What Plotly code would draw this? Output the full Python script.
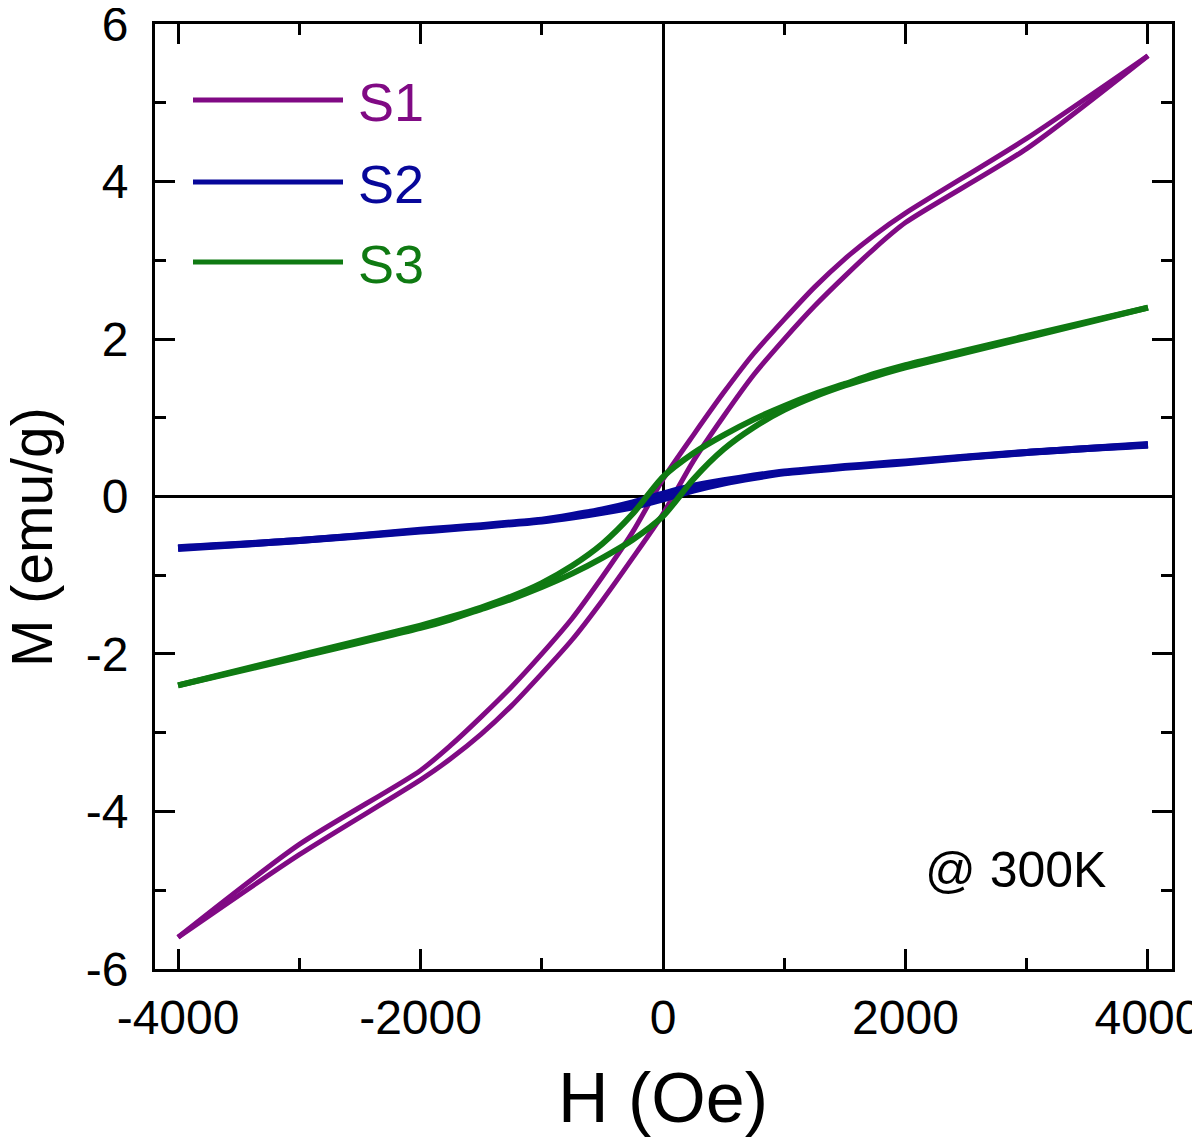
import plotly.graph_objects as go

# Field values (Oe) for the descending (upper) branch
H = [-4000, -3000, -2000, -1750, -1500, -1250, -1000, -750, -500, -250, 0,
     250, 500, 750, 1000, 1250, 1500, 1750, 2000, 3000, 4000]

# S1 upper branch magnetisation (emu/g)
s1_upper = [-5.6, -4.42, -3.48, -3.16, -2.8, -2.42, -2.0, -1.55, -1.02, -0.45, 0.22,
            0.78, 1.32, 1.82, 2.25, 2.66, 3.02, 3.33, 3.6, 4.55, 5.6]
# S2 upper branch
s2_upper = [-0.65, -0.56, -0.43, -0.4, -0.37, -0.335, -0.3, -0.24, -0.17, -0.08, 0.03,
            0.13, 0.2, 0.26, 0.31, 0.345, 0.38, 0.41, 0.44, 0.56, 0.66]
# S3 upper branch
s3_upper = [-2.4, -2.02, -1.64, -1.53, -1.41, -1.27, -1.1, -0.88, -0.6, -0.22, 0.25,
            0.55, 0.78, 0.98, 1.15, 1.3, 1.43, 1.56, 1.67, 2.04, 2.4]

series_names = ["S1", "S2", "S3"]
series_colors = ["#800a84", "#07079a", "#0f7a12"]
series_widths = [5, 7, 6]

x_ticks = [-4000, -2000, 0, 2000, 4000]
y_ticks = [-6, -4, -2, 0, 2, 4, 6]

FONT = "Arial, Liberation Sans, sans-serif"


def lower_branch(upper):
    # the ascending branch mirrors the descending one through the origin
    return [-v for v in reversed(upper)]


H_lower = [-h for h in reversed(H)]

fig = go.Figure()
for name, up, col, w in zip(series_names, [s1_upper, s2_upper, s3_upper], series_colors, series_widths):
    for xs, ys in ((H, up), (H_lower, lower_branch(up))):
        fig.add_trace(go.Scatter(
            x=xs, y=ys, mode="lines", name=name, showlegend=False,
            line=dict(color=col, width=w, shape="spline", smoothing=0.7),
        ))

# Plot frame in screenshot pixels (page body has an 8px default margin)
OFF = 8
L, R, T, B = 155, 1172, 24, 969
W, Hgt = 1200, 1141


def px(xp):
    return (xp - L) / (R - L)


def py(yp):
    return (B - yp) / (B - T)


legend_y = [100, 182, 262]
for name, col, yy in zip(series_names, series_colors, legend_y):
    fig.add_shape(type="line", xref="paper", yref="paper",
                  x0=px(193), x1=px(343), y0=py(yy), y1=py(yy),
                  line=dict(color=col, width=5))
    fig.add_annotation(xref="paper", yref="paper", x=px(356), y=py(yy + 2),
                       xanchor="left", yanchor="middle", text=name, showarrow=False,
                       font=dict(family=FONT, size=54, color=col))

fig.add_annotation(xref="paper", yref="paper", x=px(1015), y=py(870),
                   xanchor="center", yanchor="middle", text="@ 300K", showarrow=False,
                   font=dict(family=FONT, size=50, color="black"))

# axis titles
fig.add_annotation(xref="paper", yref="paper", x=px(663), y=py(1098),
                   xanchor="center", yanchor="middle", text="H (Oe)", showarrow=False,
                   font=dict(family=FONT, size=70, color="black"))
fig.add_annotation(xref="paper", yref="paper", x=px(32), y=py(537),
                   xanchor="center", yanchor="middle", text="M (emu/g)", showarrow=False,
                   textangle=-90,
                   font=dict(family=FONT, size=57, color="black"))

axis_common = dict(
    showline=True, linecolor="black", linewidth=3, mirror="allticks",
    ticks="inside", ticklen=20, tickwidth=3, tickcolor="black",
    showgrid=False, zeroline=True, zerolinecolor="black", zerolinewidth=2.5,
    tickfont=dict(family=FONT, size=48, color="black"),
    automargin=False, ticklabeloverflow="allow",
)

fig.update_xaxes(
    range=[-4190, 4198], tickvals=x_ticks, ticktext=[str(v) for v in x_ticks],
    minor=dict(dtick=1000, tick0=0, ticklen=11, tickwidth=3, tickcolor="black", ticks="inside"),
    ticklabelstandoff=4,
    **axis_common,
)
fig.update_yaxes(
    range=[-6.003, 6.003], tickvals=y_ticks, ticktext=[str(v) for v in y_ticks],
    minor=dict(dtick=1, tick0=0, ticklen=11, tickwidth=3, tickcolor="black", ticks="inside"),
    ticklabelstandoff=14,
    **axis_common,
)

fig.update_layout(
    width=W, height=Hgt,
    margin=dict(l=L - OFF, r=W + OFF - R, t=T - OFF, b=Hgt + OFF - B),
    paper_bgcolor="white", plot_bgcolor="white",
    showlegend=False,
)

fig.write_html("out.html")
